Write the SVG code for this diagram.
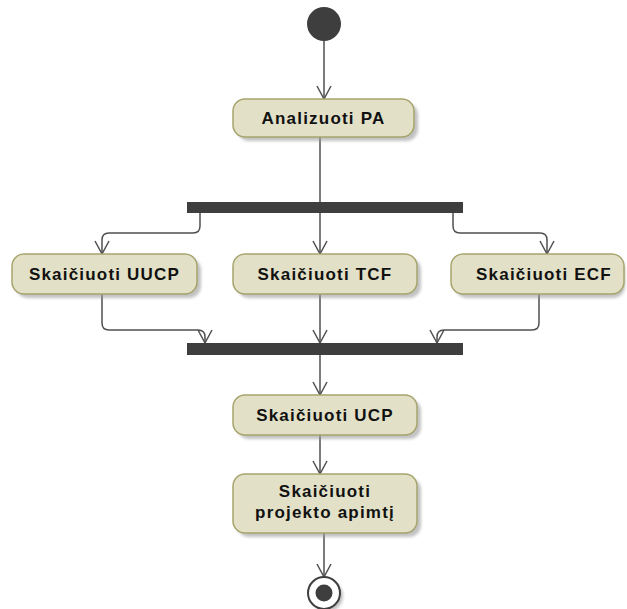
<svg xmlns="http://www.w3.org/2000/svg" width="627" height="609" viewBox="0 0 627 609">
  <style>
    .act { fill: #E2E1C7; stroke: #A6A46C; stroke-width: 1.5; }
    .shadow { fill: #9a9a9a; filter: url(#blur); opacity: 0.6; }
    .bar { fill: #3e3e3e; }
    .lbl { font-family: "Liberation Sans", Arial, sans-serif; font-size: 17px; font-weight: bold; fill: #111; text-anchor: middle; letter-spacing: 1.2px; }
    .edge { fill: none; stroke: #505050; stroke-width: 1.5; }
  </style>
  <defs>
    <filter id="blur" x="-20%" y="-20%" width="140%" height="140%">
      <feGaussianBlur stdDeviation="1.8"/>
    </filter>
    <!-- open V arrowhead, drawn along +x so orient="auto" follows the path -->
    <marker id="arrow" viewBox="0 0 16 16" refX="14" refY="8" markerWidth="16" markerHeight="16" markerUnits="userSpaceOnUse" orient="auto">
      <path d="M1,1 L14,8 L1,15" fill="none" stroke="#505050" stroke-width="1.5"/>
    </marker>
  </defs>
  <rect width="627" height="609" fill="#ffffff"/>

  <!-- connectors -->
  <g id="connectors">
    <path class="edge" d="M324,41 V99" marker-end="url(#arrow)"/>
    <path class="edge" d="M320,137 V202"/>
    <!-- fork branches -->
    <path class="edge" d="M200,213 V226 Q200,233 193,233 H109 Q102,233 102,240 V254" marker-end="url(#arrow)"/>
    <path class="edge" d="M320,213 V254" marker-end="url(#arrow)"/>
    <path class="edge" d="M453,213 V226 Q453,233 460,233 H540 Q547,233 547,240 V254" marker-end="url(#arrow)"/>
    <!-- join branches -->
    <path class="edge" d="M102,294 V323 Q102,330 109,330 H198 Q205,330 205,337 V343" marker-end="url(#arrow)"/>
    <path class="edge" d="M320,294 V343" marker-end="url(#arrow)"/>
    <path class="edge" d="M539,294 V323 Q539,330 532,330 H444 Q437,330 437,337 V343" marker-end="url(#arrow)"/>
    <path class="edge" d="M320,355 V395" marker-end="url(#arrow)"/>
    <path class="edge" d="M320,435 V474" marker-end="url(#arrow)"/>
    <path class="edge" d="M324,533 V577" marker-end="url(#arrow)"/>
  </g>

  <!-- start -->
  <g id="start">
    <circle cx="324" cy="24" r="17" fill="#3e3e3e"/>
  </g>

  <g id="analizuoti-pa">
    <rect class="shadow" x="237" y="103" width="181" height="38" rx="12"/>
    <rect class="act" x="233" y="99" width="181" height="38" rx="12"/>
    <text class="lbl" x="323.5" y="124">Analizuoti PA</text>
  </g>

  <g id="fork">
    <rect class="bar" x="187" y="202" width="276" height="11"/>
  </g>

  <g id="skaiciuoti-uucp">
    <rect class="shadow" x="16" y="258" width="185" height="40" rx="12"/>
    <rect class="act" x="12" y="254" width="185" height="40" rx="12"/>
    <text class="lbl" x="104.5" y="280">Skaičiuoti UUCP</text>
  </g>

  <g id="skaiciuoti-tcf">
    <rect class="shadow" x="237" y="258" width="184" height="40" rx="12"/>
    <rect class="act" x="233" y="254" width="184" height="40" rx="12"/>
    <text class="lbl" x="325" y="280">Skaičiuoti TCF</text>
  </g>

  <g id="skaiciuoti-ecf">
    <rect class="shadow" x="455" y="258" width="170" height="40" rx="12"/>
    <rect class="act" x="451" y="254" width="173" height="40" rx="12"/>
    <text class="lbl" x="544" y="280">Skaičiuoti ECF</text>
  </g>

  <g id="join">
    <rect class="bar" x="187" y="343" width="276" height="12"/>
  </g>

  <g id="skaiciuoti-ucp">
    <rect class="shadow" x="237" y="399" width="184" height="40" rx="12"/>
    <rect class="act" x="233" y="395" width="184" height="40" rx="12"/>
    <text class="lbl" x="325" y="421">Skaičiuoti UCP</text>
  </g>

  <g id="skaiciuoti-apimti">
    <rect class="shadow" x="237" y="478" width="184" height="59" rx="12"/>
    <rect class="act" x="233" y="474" width="184" height="59" rx="12"/>
    <text class="lbl" x="325" y="497">Skaičiuoti</text>
    <text class="lbl" x="325" y="518">projekto apimtį</text>
  </g>

  <!-- end -->
  <g id="end">
    <circle cx="327" cy="596" r="16" class="shadow"/>
    <circle cx="324" cy="593" r="16" fill="#ffffff" stroke="#3e3e3e" stroke-width="2"/>
    <circle cx="324" cy="593" r="8.5" fill="#3e3e3e"/>
  </g>
</svg>
